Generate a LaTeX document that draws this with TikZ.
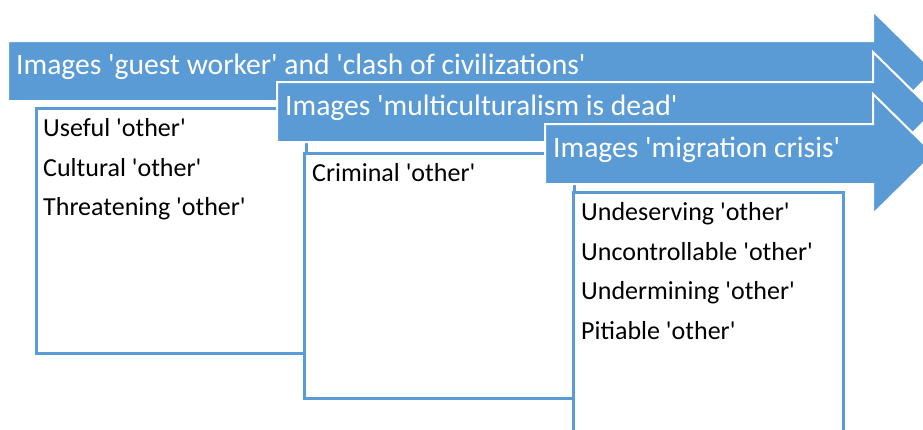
\documentclass[tikz,border=0pt]{standalone}
\usepackage{fontspec}
\setmainfont{Carlito}[Ligatures=TeXOff]
\usepackage{xcolor}
\usetikzlibrary{positioning}
\definecolor{figBlue}{RGB}{91,155,213}
\definecolor{figInk}{RGB}{0,0,0}
\tikzset{
  bannerarrow/.style={fill=figBlue,draw=white,line width=2pt,line join=miter},
  bannertext/.style={text=white,font=\fontsize{29.6}{34}\selectfont,anchor=base west,inner sep=0pt},
  listbox/.style={draw=figBlue,line width=2.6pt,fill=white,anchor=north west,
    minimum width=270pt,minimum height=245pt,inner sep=0pt},
  listtext/.style={text=figInk,font=\fontsize{26}{30}\selectfont,anchor=base west,inner sep=0pt},
}
% left x, top y, name, label
\newcommand{\BannerArrow}[4]{%
  \draw[bannerarrow] (#1,#2) -- (873,#2) -- (873,{#2-30}) -- (934,{#2+30})
    -- (873,{#2+90}) -- (873,{#2+60}) -- (#1,{#2+60}) -- cycle;%
  \node[bannertext] (#3) at ({#1+8},{#2+33}) {#4};%
}

\begin{document}
\begin{tikzpicture}[x=1pt,y=-1pt]
% Page: 923 x 429, y grows downwards.
\useasboundingbox (0,0) rectangle (923,429);

% Stage 1
\BannerArrow{8}{41}{guestArrow}{Images 'guest worker' and 'clash of civilizations'}
\node[listbox] (guestBox) at (35,107) {};
\foreach \entry [count=\i from 0] in {Useful 'other',Cultural 'other',Threatening 'other'}
  \node[listtext] (guestLine\i) at (43,{136.5+39.5*\i}) {\entry};

% Stage 2
\BannerArrow{277}{82}{multiArrow}{Images 'multiculturalism is dead'}
\node[listbox] (multiBox) at (303,152) {};
\node[listtext] (multiLine0) at (312,181.5) {Criminal 'other'};

% Stage 3
\BannerArrow{545}{124}{crisisArrow}{Images 'migration crisis'}
\node[listbox] (crisisBox) at (572,191) {};
\foreach \entry [count=\i from 0] in {Undeserving 'other',Uncontrollable 'other',Undermining 'other',Pitiable 'other'}
  \node[listtext] (crisisLine\i) at (581,{220.5+39.7*\i}) {\entry};
\end{tikzpicture}
\end{document}
